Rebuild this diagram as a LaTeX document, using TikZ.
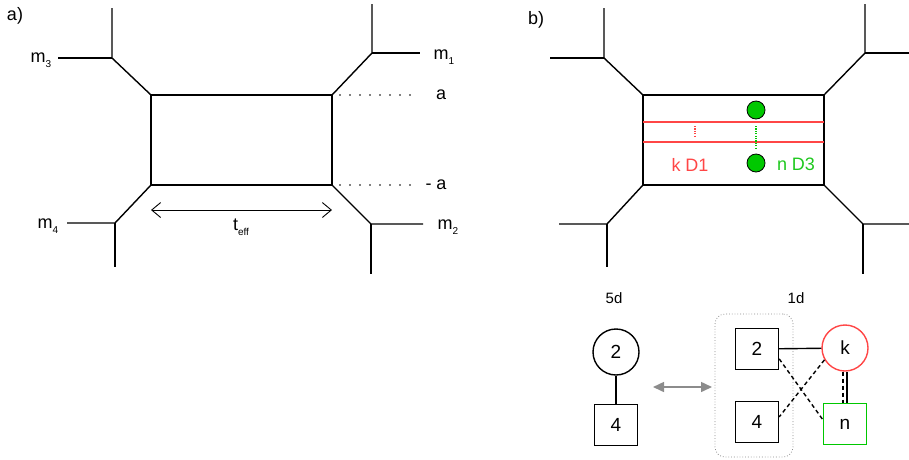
\documentclass[tikz,border=0pt]{standalone}
\usepackage{fontspec}
\setmainfont{Liberation Sans}
\usetikzlibrary{arrows.meta}
\definecolor{myred}{RGB}{255,70,70}
\definecolor{mygreen}{RGB}{0,200,0}
\definecolor{mytgreen}{RGB}{30,200,30}
\definecolor{mygray}{RGB}{140,140,140}
\newcommand{\sub}[1]{\raisebox{-5pt}{\fontsize{10}{10}\selectfont #1}}
\begin{document}
\begin{tikzpicture}[x=1pt,y=-1pt,
  edge/.style={line width=1.4pt},
  lbl/.style={font=\fontsize{18}{20}\selectfont, inner sep=0pt},
  small/.style={font=\fontsize{15}{17}\selectfont, inner sep=0pt},
  dots/.style={line width=1.8pt, line cap=round, dash pattern=on 0pt off 10pt},
  fine/.style={line width=1.4pt, dash pattern=on 1.2pt off 1.2pt},
  sq/.style={draw, line width=1.4pt, minimum width=43pt, minimum height=41pt, inner sep=0pt, font=\fontsize{19}{21}\selectfont},
  circ/.style={circle, draw, line width=1.4pt, minimum size=46pt, inner sep=0pt, font=\fontsize{19}{21}\selectfont},
  dot/.style={circle, draw=black, line width=0.8pt, fill=mygreen, minimum size=18pt, inner sep=0pt},
  dsh/.style={line width=1.4pt, dash pattern=on 4pt off 3pt}]
\useasboundingbox (0,0) rectangle (909,459);

% ---------- panel a ----------
\node[lbl] (la) at (15,16) {a)};
\coordinate (aTL) at (151,95);
\coordinate (aTR) at (332,95);
\coordinate (aBL) at (151,185);
\coordinate (aBR) at (332,185);
\coordinate (aJ3) at (112,58);
\coordinate (aJ1) at (372,53);
\coordinate (aJ4) at (115,223);
\coordinate (aJ2) at (371,224);
\coordinate (aE3u) at (112,8);
\coordinate (aE3l) at (58,58);
\coordinate (aE1u) at (372,4);
\coordinate (aE1r) at (420,53);
\coordinate (aE4l) at (67,223);
\coordinate (aE4d) at (115,267);
\coordinate (aE2r) at (423,224);
\coordinate (aE2d) at (371,274);
\draw[edge] (aTL) -- (aTR) -- (aBR) -- (aBL) -- cycle;
\draw[edge] (aTL) -- (aJ3) -- (aE3u);
\draw[edge] (aJ3) -- (aE3l);
\draw[edge] (aTR) -- (aJ1) -- (aE1u);
\draw[edge] (aJ1) -- (aE1r);
\draw[edge] (aBL) -- (aJ4) -- (aE4l);
\draw[edge] (aJ4) -- (aE4d);
\draw[edge] (aBR) -- (aJ2) -- (aE2r);
\draw[edge] (aJ2) -- (aE2d);

\node[lbl] (m3) at (41,60) {m\sub{3}};
\node[lbl] (m1) at (444,57) {m\sub{1}};
\node[lbl] (m4) at (48,226) {m\sub{4}};
\node[lbl] (m2) at (448,227) {m\sub{2}};

\coordinate (dA1) at (340,95);
\coordinate (dA2) at (412,95);
\coordinate (dB1) at (340,185);
\coordinate (dB2) at (412,185);
\draw[dots] (dA1) -- (dA2);
\draw[dots] (dB1) -- (dB2);
\node[lbl] (la1) at (441,95) {a};
\node[lbl] (la2) at (436,185) {- a};

\coordinate (tL) at (151,210);
\coordinate (tR) at (332,210);
\draw[line width=0.9pt, {Straight Barb[length=9pt,width=15pt]}-{Straight Barb[length=9pt,width=15pt]}] (tL) -- (tR);
\node[lbl] (teff) at (241,227) {t\sub{eff}};

% ---------- panel b ----------
\node[lbl] (lb) at (536,20) {b)};
\coordinate (bTL) at (643,95);
\coordinate (bTR) at (824,95);
\coordinate (bBL) at (643,185);
\coordinate (bBR) at (824,185);
\coordinate (bJ3) at (604,58);
\coordinate (bJ1) at (865,53);
\coordinate (bJ4) at (607,224);
\coordinate (bJ2) at (863,224);
\coordinate (bE3u) at (604,8);
\coordinate (bE3l) at (550,58);
\coordinate (bE1u) at (865,4);
\coordinate (bE1r) at (909,53);
\coordinate (bE4l) at (559,224);
\coordinate (bE4d) at (607,267);
\coordinate (bE2r) at (909,224);
\coordinate (bE2d) at (863,274);
\draw[edge] (bTL) -- (bTR) -- (bBR) -- (bBL) -- cycle;
\draw[edge] (bTL) -- (bJ3) -- (bE3u);
\draw[edge] (bJ3) -- (bE3l);
\draw[edge] (bTR) -- (bJ1) -- (bE1u);
\draw[edge] (bJ1) -- (bE1r);
\draw[edge] (bBL) -- (bJ4) -- (bE4l);
\draw[edge] (bJ4) -- (bE4d);
\draw[edge] (bBR) -- (bJ2) -- (bE2r);
\draw[edge] (bJ2) -- (bE2d);

\coordinate (r1L) at (643,122);
\coordinate (r1R) at (824,122);
\coordinate (r2L) at (643,142);
\coordinate (r2R) at (824,142);
\draw[myred, line width=1.4pt] (r1L) -- (r1R);
\draw[myred, line width=1.4pt] (r2L) -- (r2R);
\coordinate (rdT) at (695,126);
\coordinate (rdB) at (695,137);
\draw[myred, fine] (rdT) -- (rdB);
\coordinate (gdT) at (756,126);
\coordinate (gdB) at (756,149);
\draw[mygreen, fine] (gdT) -- (gdB);
\node[dot] (g1) at (756,110) {};
\node[dot] (g2) at (756,163) {};
\node[lbl, text=myred] (kD1) at (690,165) {k D1};
\node[lbl, text=mytgreen] (nD3) at (796,164) {n D3};

% ---------- quivers ----------
\node[small] (t5d) at (614,298) {5d};
\node[small] (t1d) at (796,298) {1d};
\node[circ] (c2) at (616,352) {2};
\node[sq] (s4a) at (616,425) {4};
\draw[edge] (c2) -- (s4a);

\coordinate (arL) at (653,387);
\coordinate (arR) at (712,387);
\draw[mygray, line width=1.5pt, {Triangle[length=11pt,width=10pt]}-{Triangle[length=11pt,width=10pt]}] (arL) -- (arR);

\node[draw=mygray, line width=0.8pt, dotted, rounded corners=10pt, minimum width=78pt, minimum height=143pt, inner sep=0pt] (box) at (754,385.5) {};
\node[sq] (s2) at (757,349) {2};
\node[sq] (s4) at (757,422) {4};
\node[circ, draw=myred] (k) at (845,348) {k};
\node[sq, draw=mygreen] (n) at (845,424) {n};
\draw[edge] (s2) -- (k);
\draw[dsh] (s2.-24) -- (n.169);
\draw[dsh] (k.210) -- (s4.13);
\draw[dsh] ([xshift=-2pt]k.south) -- ([xshift=-2pt]n.north);
\draw[edge] ([xshift=2pt]k.south) -- ([xshift=2pt]n.north);
\end{tikzpicture}
\end{document}
